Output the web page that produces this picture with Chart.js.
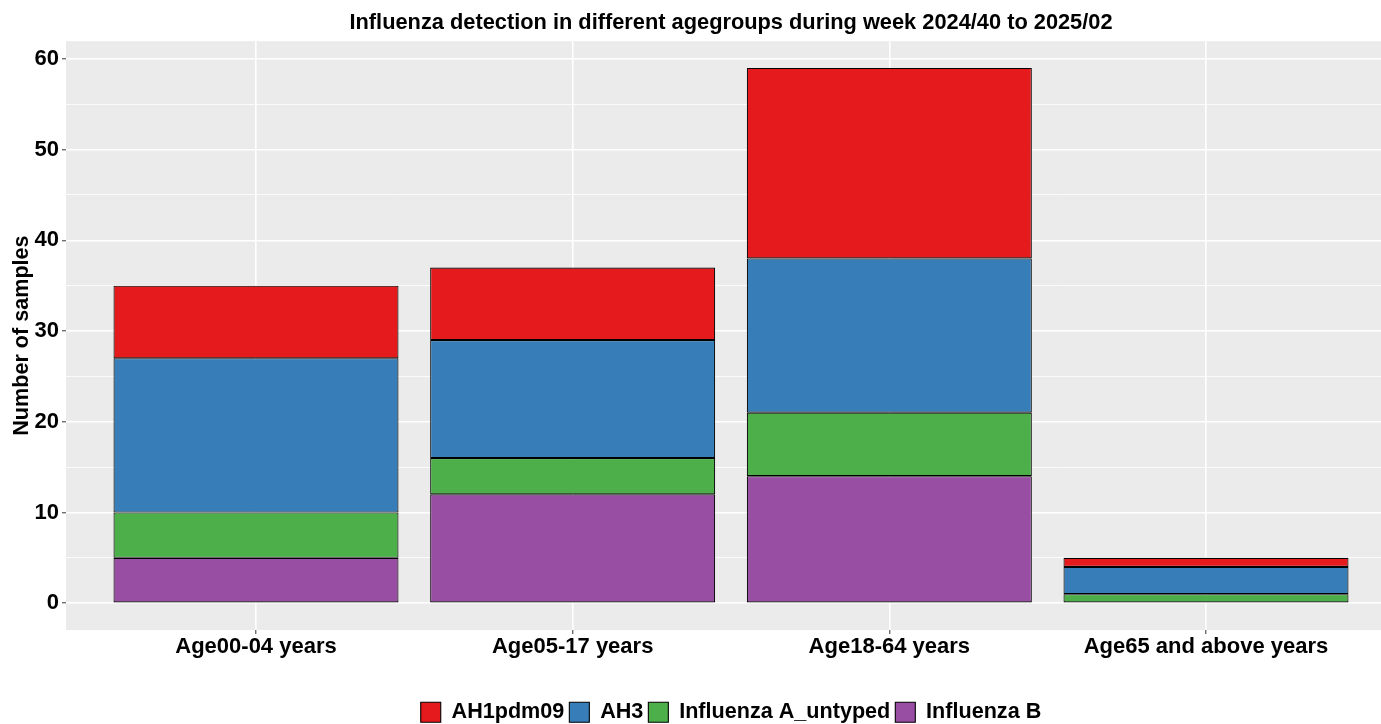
<!DOCTYPE html>
<html>
<head>
<meta charset="utf-8">
<script src="https://cdn.jsdelivr.net/npm/chart.js@4.4.1/dist/chart.umd.min.js"></script>
<style>
  html, body { margin: 0; padding: 0; overflow: hidden; background: #fff; width: 1381px; height: 724px; }
  #wrap { position: absolute; left: 0; top: 0; width: 1396px; height: 733px; }
</style>
</head>
<body>
<div id="wrap"><canvas id="c" width="1396" height="733"></canvas></div>
<script>
const categories = ["Age00-04 years", "Age05-17 years", "Age18-64 years", "Age65 and above years"];
const influenzaB = [5, 12, 14, 0];
const untyped = [5, 4, 7, 1];
const ah3 = [17, 13, 17, 3];
const ah1pdm09 = [8, 8, 21, 1];
const yTicks = [0, 5, 10, 15, 20, 25, 30, 35, 40, 45, 50, 55, 60];
const yTickLabels = [0, 10, 20, 30, 40, 50, 60];

const FONT = "'Liberation Sans', Arial, sans-serif";
const toPts = arr => arr.map((v, i) => ({ x: i, y: v }));

const datasets = [
  { label: "Influenza B", data: toPts(influenzaB), backgroundColor: "#984EA3" },
  { label: "Influenza A_untyped", data: toPts(untyped), backgroundColor: "#4DAF4A" },
  { label: "AH3", data: toPts(ah3), backgroundColor: "#377EB8" },
  { label: "AH1pdm09", data: toPts(ah1pdm09), backgroundColor: "#E41A1C" }
].map(d => Object.assign(d, {
  borderColor: "#000000", borderWidth: 1.1, borderSkipped: false,
  barPercentage: 0.9, categoryPercentage: 1.0
}));

const bgPlugin = {
  id: "panelBg",
  beforeDraw(chart) {
    const { ctx, chartArea: a } = chart;
    ctx.save();
    ctx.fillStyle = "#EBEBEB";
    ctx.fillRect(a.left, a.top, a.right - a.left, a.bottom - a.top);
    ctx.restore();
  }
};

new Chart(document.getElementById("c"), {
  type: "bar",
  data: { datasets },
  plugins: [bgPlugin],
  options: {
    responsive: false,
    animation: false,
    layout: { padding: 0 },
    plugins: {
      title: {
        display: true,
        fullSize: false,
        text: "Influenza detection in different agegroups during week 2024/40 to 2025/02",
        color: "#000",
        font: { family: FONT, size: 21.8, weight: "bold" },
        padding: { top: 10, bottom: 5 }
      },
      legend: {
        position: "bottom",
        fullSize: false,
        reverse: true,
        labels: {
          color: "#000",
          font: { family: FONT, size: 21.6, weight: "bold" },
          boxWidth: 20, boxHeight: 20, padding: 5
        }
      },
      tooltip: { enabled: false }
    },
    scales: {
      x: {
        type: "linear",
        min: -0.6, max: 3.6,
        offset: false,
        stacked: true,
        afterBuildTicks: s => { s.ticks = categories.map((c, i) => ({ value: i })); },
        afterFit: s => { s.height = 66.4; },
        ticks: {
          callback: v => categories[v],
          color: "#000",
          font: { family: FONT, size: 22, weight: "bold" },
          padding: 0, autoSkip: false, maxRotation: 0
        },
        grid: { offset: false, color: "#FFFFFF", lineWidth: 1.6, tickColor: "#333333", tickLength: 4, tickWidth: 1 },
        border: { display: false }
      },
      y: {
        min: -2.95, max: 61.95,
        stacked: true,
        afterBuildTicks: s => { s.ticks = yTicks.map(v => ({ value: v })); },
        afterFit: s => { s.width = 66; },
        ticks: {
          callback: v => (yTickLabels.includes(v) ? String(v) : ""),
          color: "#000",
          font: { family: FONT, size: 22, weight: "bold" },
          padding: 3, autoSkip: false
        },
        grid: {
          color: "#FFFFFF",
          lineWidth: c => (yTickLabels.includes(c.tick.value) ? 1.6 : 0.8),
          tickColor: c => (yTickLabels.includes(c.tick.value) ? "#333333" : "rgba(0,0,0,0)"),
          tickLength: 4, tickWidth: 1
        },
        border: { display: false },
        title: {
          display: true,
          text: "Number of samples",
          color: "#000",
          font: { family: FONT, size: 21.6, weight: "bold" },
          padding: { top: 9, bottom: 0 }
        }
      }
    }
  }
});
</script>
</body>
</html>
